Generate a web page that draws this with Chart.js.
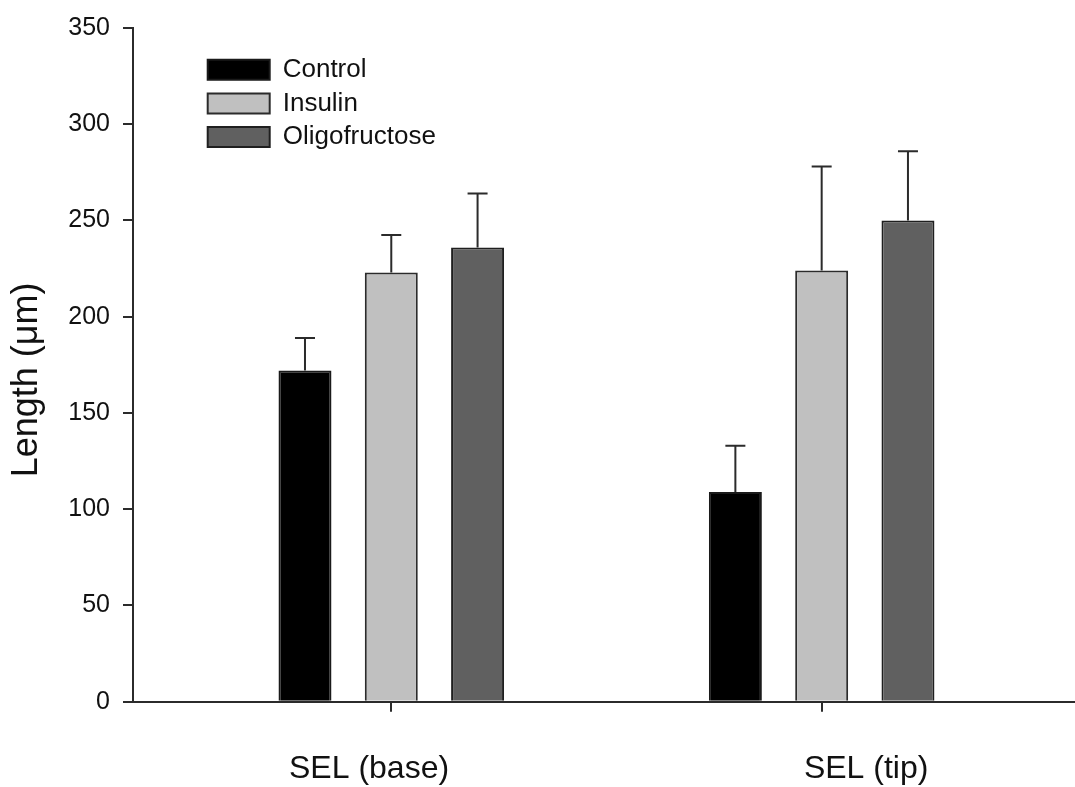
<!DOCTYPE html>
<html>
<head>
<meta charset="utf-8">
<script src="https://cdn.jsdelivr.net/npm/chart.js@4.4.1/dist/chart.umd.min.js"></script>
<style>
  html, body { margin: 0; padding: 0; background: #fff; }
  canvas { display: block; }
</style>
</head>
<body>
<canvas id="chart" width="1075" height="787"></canvas>
<script>
// groups on the x axis
var categories = ['SEL (base)', 'SEL (tip)'];

// mean length (um) per group
var control = [172, 109];
var insulin = [223, 224];
var oligofructose = [236, 250];

// upper error bar (SEM) per group
var controlErr = [17, 24];
var insulinErr = [19.5, 54];
var oligofructoseErr = [28, 36];

var yTicks = [0, 50, 100, 150, 200, 250, 300, 350];

var font = "'Liberation Sans', Arial, Helvetica, sans-serif";
var ink = '#2b2b2b';

function points(values) {
  return values.map(function(v, i) { return { x: i, y: v }; });
}

// the reference labels sit a bit off their ticks, nudge them with padding
function pad(s, before, after) {
  return new Array(before + 1).join(' ') + s + new Array(after + 1).join(' ');
}
var labelPad = [[0, 5], [10, 0]];

var errorBars = {
  id: 'errorBars',
  afterDatasetsDraw: function(chart) {
    var ctx = chart.ctx;
    var y = chart.scales.y;
    ctx.save();
    ctx.strokeStyle = ink;
    ctx.lineWidth = 2;
    chart.data.datasets.forEach(function(ds, d) {
      var meta = chart.getDatasetMeta(d);
      meta.data.forEach(function(bar, i) {
        var top = y.getPixelForValue(ds.data[i].y + ds.errors[i]);
        ctx.beginPath();
        ctx.moveTo(bar.x, bar.y);
        ctx.lineTo(bar.x, top);
        ctx.moveTo(bar.x - 10, top);
        ctx.lineTo(bar.x + 10, top);
        ctx.stroke();
      });
    });
    ctx.restore();
  }
};

// legend lives inside the plot, shift it from the chart area corner
var legendShift = {
  id: 'legendShift',
  afterLayout: function(chart) {
    if (!chart.legend) return;
    chart.legend.left = chart.chartArea.left + 67;
    chart.legend.top = chart.chartArea.top + 21;
  }
};

var chart = new Chart(document.getElementById('chart'), {
  type: 'bar',
  data: {
    datasets: [
      { label: 'Control', data: points(control), errors: controlErr, backgroundColor: '#000000', borderColor: '#1a1a1a', borderWidth: 2 },
      { label: 'Insulin', data: points(insulin), errors: insulinErr, backgroundColor: '#c0c0c0', borderColor: ink, borderWidth: 2 },
      { label: 'Oligofructose', data: points(oligofructose), errors: oligofructoseErr, backgroundColor: '#606060', borderColor: '#1f1f1f', borderWidth: 2 }
    ]
  },
  options: {
    responsive: false,
    animation: false,
    categoryPercentage: 0.6015,
    barPercentage: 0.614,
    layout: { padding: { top: 21, right: 0, bottom: 0, left: 0 } },
    plugins: {
      tooltip: { enabled: false },
      legend: {
        position: 'chartArea',
        align: 'start',
        labels: {
          boxWidth: 62,
          boxHeight: 20,
          padding: 7.7,
          color: '#111',
          font: { family: font, size: 26 }
        }
      }
    },
    scales: {
      x: {
        type: 'linear',
        offset: false,
        min: -0.6001,
        max: 1.5886,
        afterBuildTicks: function(scale) {
          scale.ticks = categories.map(function(c, i) { return { value: i }; });
        },
        afterFit: function(scale) { scale.height = 85.3; },
        border: { display: true, color: ink, width: 2 },
        grid: { display: true, offset: false, drawOnChartArea: false, drawTicks: true, tickLength: 10, color: ink, lineWidth: 2 },
        ticks: {
          padding: 38,
          maxRotation: 0,
          autoSkip: false,
          color: '#111',
          font: { family: font, size: 32 },
          callback: function(v) {
            return pad(categories[v], labelPad[v][0], labelPad[v][1]);
          }
        }
      },
      y: {
        min: 0,
        max: 350,
        afterBuildTicks: function(scale) {
          scale.ticks = yTicks.map(function(t) { return { value: t }; });
        },
        afterFit: function(scale) { scale.width = 133; },
        border: { display: true, color: ink, width: 2 },
        grid: { display: true, drawOnChartArea: false, drawTicks: true, tickLength: 10, color: ink, lineWidth: 2 },
        ticks: {
          padding: 13,
          color: '#111',
          font: { family: font, size: 25 }
        },
        title: {
          display: true,
          text: 'Length (\u03bcm)   ',
          color: '#111',
          padding: { top: 5, bottom: 0 },
          font: { family: font, size: 36 }
        }
      }
    }
  },
  plugins: [errorBars, legendShift]
});
</script>
</body>
</html>
